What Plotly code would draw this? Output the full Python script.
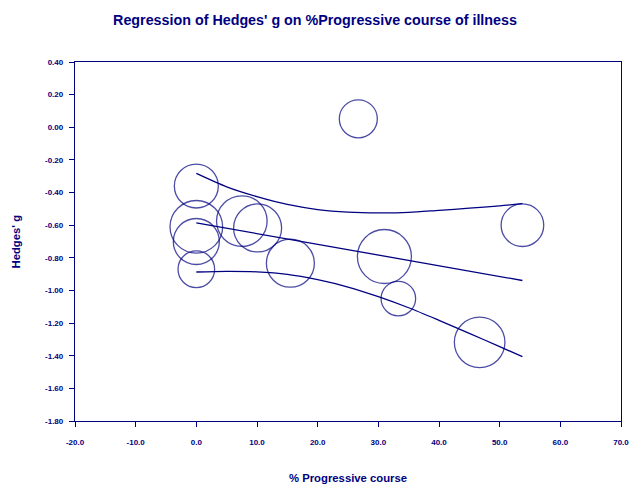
import plotly.graph_objects as go

# Study-level data: % progressive course, Hedges' g, relative weight (%)
pct_progressive = [26.7, 0.0, 0.0, 0.0, 0.0, 7.5, 10.1, 15.5, 31.0, 33.3, 46.7, 53.75]
hedges_g = [0.052, -0.36, -0.61, -0.70, -0.87, -0.575, -0.617, -0.833, -0.792, -1.05, -1.318, -0.60]
weight_pct = [5.72, 7.66, 10.96, 8.38, 5.30, 10.13, 9.12, 9.12, 11.54, 4.73, 10.13, 7.19]

# Fitted regression line (over the observed covariate range)
reg_x = [0.0, 53.75]
reg_y = [-0.586, -0.939]

# 95% confidence limits of the fitted line
band_x = [0.0, 5.0, 10.0, 15.0, 20.0, 25.0, 30.0, 35.0, 40.0, 45.0, 50.0, 53.75]
upper_y = [-0.283, -0.365, -0.425, -0.473, -0.504, -0.520, -0.525, -0.522, -0.509, -0.496, -0.482, -0.468]
lower_y = [-0.887, -0.883, -0.886, -0.901, -0.934, -0.979, -1.038, -1.106, -1.183, -1.263, -1.344, -1.406]

# Axis ticks
x_ticks = [-20, -10, 0, 10, 20, 30, 40, 50, 60, 70]
x_ticktext = ["-20.0", "-10.0", "0.0", "10.0", "20.0", "30.0", "40.0", "50.0", "60.0", "70.0"]
y_ticks = [0.4, 0.2, 0.0, -0.2, -0.4, -0.6, -0.8, -1.0, -1.2, -1.4, -1.6, -1.8]
y_ticktext = ["0.40", "0.20", "0.00", "-0.20", "-0.40", "-0.60", "-0.80",
              "-1.00", "-1.20", "-1.40", "-1.60", "-1.80"]

NAVY = "#000080"
FONT = "Liberation Sans, Arial, sans-serif"

fig = go.Figure()

line_style = dict(color=NAVY, width=1.3)
fig.add_trace(go.Scatter(x=band_x, y=upper_y, mode="lines",
                         line=dict(shape="spline", smoothing=0.8, **line_style), hoverinfo="skip"))
fig.add_trace(go.Scatter(x=reg_x, y=reg_y, mode="lines", line=line_style, hoverinfo="skip"))
fig.add_trace(go.Scatter(x=band_x, y=lower_y, mode="lines",
                         line=dict(shape="spline", smoothing=0.8, **line_style), hoverinfo="skip"))

# Bubbles: area proportional to study weight
fig.add_trace(go.Scatter(
    x=pct_progressive, y=hedges_g, mode="markers",
    marker=dict(symbol="circle-open", color=NAVY, size=weight_pct,
                sizemode="area", sizeref=1 / (2 * 63.15), line=dict(width=1.3)),
))

axis_common = dict(
    showline=True, linecolor=NAVY, linewidth=1.3, mirror=True,
    ticks="outside", ticklen=5, tickcolor=NAVY, tickwidth=1.3,
    showgrid=False, zeroline=False, automargin=False,
    tickfont=dict(family=FONT, size=8, color=NAVY, weight="bold"),
)

fig.update_layout(
    width=630, height=489,
    margin=dict(l=75, r=9, t=62, b=68),
    paper_bgcolor="white", plot_bgcolor="white",
    showlegend=False,
    title=dict(text="Regression of Hedges' g on %Progressive course of illness",
               x=0.5, xref="container", xanchor="center",
               y=1 - 20 / 489, yref="container", yanchor="middle",
               font=dict(family=FONT, size=14.3, color=NAVY, weight="bold")),
    xaxis=dict(range=[-20, 70], tickvals=x_ticks, ticktext=x_ticktext,
               ticklabelstandoff=8, **axis_common),
    yaxis=dict(range=[-1.8, 0.4], tickvals=y_ticks, ticktext=y_ticktext,
               ticklabelstandoff=4, **axis_common),
    annotations=[
        dict(text="% Progressive course", xref="paper", yref="paper", x=0.5, y=-57 / 359,
             xanchor="center", yanchor="middle", showarrow=False,
             font=dict(family=FONT, size=11.3, color=NAVY, weight="bold")),
        dict(text="Hedges' g", xref="paper", yref="paper", x=-60 / 546, y=0.5,
             xanchor="center", yanchor="middle", showarrow=False, textangle=-90,
             font=dict(family=FONT, size=11.3, color=NAVY, weight="bold")),
    ],
)

fig.write_html("out.html")
